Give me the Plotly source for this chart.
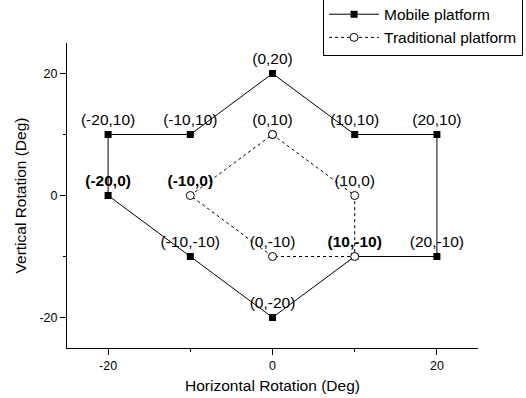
import plotly.graph_objects as go

# Data
mobile_x = [0, 10, 20, 20, 10, 0, -10, -20, -20, -10, 0]
mobile_y = [20, 10, 10, -10, -10, -20, -10, 0, 10, 10, 20]
mobile_labels = ["(0,20)", "(10,10)", "(20,10)", "(20,-10)", "", "(0,-20)",
                 "(-10,-10)", "(-20,0)", "(-20,10)", "(-10,10)", ""]
mobile_bold = [False, False, False, False, False, False, False, True, False, False, False]

trad_x = [0, 10, 10, 0, -10, 0]
trad_y = [10, 0, -10, -10, 0, 10]
trad_labels = ["(0,10)", "(10,0)", "(10,-10)", "(0,-10)", "(-10,0)", ""]
trad_bold = [False, False, True, False, True, False]

tick_vals = [-20, 0, 20]
tick_text = ["-20", "0", "20"]
minor_vals = [-10, 10]

FONT = "Arial, Liberation Sans, sans-serif"


def fmt(labels, bold):
    return [f"<b>{t}</b>" if b and t else t for t, b in zip(labels, bold)]


fig = go.Figure()
fig.add_trace(go.Scatter(
    x=mobile_x, y=mobile_y, mode="lines+markers+text",
    name="Mobile platform",
    text=fmt(mobile_labels, mobile_bold), textposition="top center",
    textfont=dict(family=FONT, size=15.5, color="black"),
    line=dict(color="black", width=1),
    marker=dict(symbol="square", size=7, color="black"),
    hoverinfo="skip",
))
fig.add_trace(go.Scatter(
    x=trad_x, y=trad_y, mode="lines+markers+text",
    name="Traditional platform",
    text=fmt(trad_labels, trad_bold), textposition="top center",
    textfont=dict(family=FONT, size=15.5, color="black"),
    line=dict(color="black", width=1, dash="dot"),
    marker=dict(symbol="circle", size=8, color="white",
                line=dict(color="black", width=1)),
    hoverinfo="skip",
))

axis_common = dict(
    range=[-25, 25], showgrid=False, zeroline=False,
    showline=True, linecolor="black", linewidth=1, mirror=False,
    ticks="outside", ticklen=6, tickwidth=1, tickcolor="black",
    tickvals=tick_vals, ticktext=tick_text,
    tickfont=dict(family=FONT, size=12.5, color="black"),
    minor=dict(ticks="outside", ticklen=3, tickwidth=1, tickcolor="black",
               tickvals=minor_vals),
    automargin=False,
)

fig.update_layout(
    width=526, height=398,
    margin=dict(l=67, r=48, t=43, b=50, autoexpand=False),
    paper_bgcolor="white", plot_bgcolor="white",
    font=dict(family=FONT, color="black"),
    xaxis=dict(**axis_common,
               title=dict(text="Horizontal Rotation (Deg)",
                          font=dict(family=FONT, size=15.5, color="black"),
                          standoff=8)),
    yaxis=dict(**axis_common,
               title=dict(text="Vertical Rotation (Deg)",
                          font=dict(family=FONT, size=15.5, color="black"),
                          standoff=8)),
    legend=dict(x=0.623, xanchor="left", y=1.152, yanchor="top",
                bordercolor="black", borderwidth=1, bgcolor="white",
                itemwidth=50,
                font=dict(family=FONT, size=15.5, color="black")),
    showlegend=True,
)

fig.write_html("out.html", config={"displayModeBar": False},
               post_script="document.body.style.margin='0';")
